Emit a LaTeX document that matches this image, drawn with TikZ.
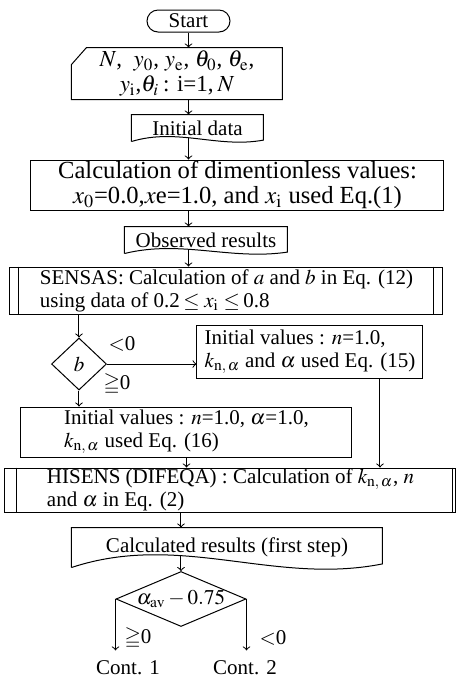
\documentclass[tikz,border=0pt]{standalone}
\usepackage{amssymb}
\usepackage{mathptmx}
\usepackage{fontspec}
\setmainfont{Liberation Serif}
\usetikzlibrary{shapes.geometric,calc}

% box with a wavy bottom (document)
\newcommand{\docshape}[2]{%
  \draw (#1.south west) -- (#1.north west) -- (#1.north east) -- ([yshift={0.2*#2}]#1.south east)
    .. controls ($(#1.south west)!0.65!(#1.south east)+(0,{-1*#2})$) and ($(#1.south west)!0.35!(#1.south east)+(0,{2*#2})$) .. (#1.south west);}

\begin{document}
\begin{tikzpicture}[x=0.5pt,y=-0.5pt,line width=0.5pt,font=\fontsize{10.5}{11.5}\selectfont]
%define
\tikzstyle{term} = [rectangle, rounded corners=5.5pt, minimum width=41.5pt, minimum height=11pt, inner sep=0pt, draw]
\tikzstyle{box} = [rectangle, inner sep=0pt, align=center, draw]
\tikzstyle{plain} = [rectangle, inner sep=0pt, align=center]
\tikzstyle{decide} = [diamond, inner sep=0pt, draw]
\tikzstyle{lbl} = [inner sep=0pt]
\tikzstyle{arrow} = [->, >=to]

\useasboundingbox (0,0) rectangle (457,677);

%input
\node[term](start) at (188.5,21){Start};
\node[plain, minimum width=105pt, minimum height=25.5pt, font=\fontsize{11.5}{12.5}\selectfont](input) at (177,73.5){$N$, \ $y_0$, $y_{\rm e}$, $\theta_0$, $\theta_{\rm e}$,\\ $y_{\rm i}$,$\theta_i$\,: i=1,\,$N$};
\draw ([yshift=-8.5pt]input.north west) -- ([xshift=7.5pt]input.north west) -- (input.north east) -- (input.south east) -- (input.south west) -- cycle;
\node[plain, minimum width=65.5pt, minimum height=13pt](init) at (197.5,128){Initial data};
\docshape{init}{3.5pt}
\node[box, minimum width=206.5pt, minimum height=25pt, font=\fontsize{12.3}{12.3}\selectfont](calc) at (237.5,185){Calculation of dimentionless values:\\ $x_0$=0.0,$x$e=1.0, and $x_{\rm i}$ used Eq.(1)};
\node[plain, minimum width=81pt, minimum height=13pt](obs) at (206,240){Observed results};
\docshape{obs}{3.5pt}

%SENSAS
\node[box, align=left, minimum width=216.5pt, minimum height=23.5pt](sensas) at (226.5,290.5){SENSAS: Calculation of $a$ and $b$ in Eq. (12)\\ using data of 0.2\,$\le x_{\rm i}\le$\,0.8};
\draw ([xshift=4.5pt]sensas.north west) -- ([xshift=4.5pt]sensas.south west);
\draw ([xshift=-5pt]sensas.north east) -- ([xshift=-5pt]sensas.south east);

%branch on b
\node[decide, minimum width=27.5pt, minimum height=26pt](b) at (79,364){$b$};
\node[lbl](b_lt) at (122,344){$<$0};
\node[lbl](b_ge) at (117,384){$\geqq$0};
\node[box, align=left, minimum width=113pt, minimum height=26.5pt](ini15) at (310,351.5){Initial values : $n$=1.0,\\ $k_{\rm n,\,\alpha}$ and $\alpha$ used Eq. (15)};
\node[box, align=left, minimum width=165.5pt, minimum height=25pt](ini16) at (186.5,432){Initial values : $n$=1.0, $\alpha$=1.0,\\ $k_{\rm n,\,\alpha}$ used Eq. (16)};

%HISENS
\node[box, align=left, minimum width=225.5pt, minimum height=22pt](hisens) at (230.5,490){HISENS (DIFEQA) : Calculation of $k_{\rm n,\,\alpha}$, $n$\\ and $\alpha$\ in Eq. (2)};
\draw ([xshift=6pt]hisens.north west) -- ([xshift=6pt]hisens.south west);
\draw ([xshift=-2pt]hisens.north east) -- ([xshift=-2pt]hisens.south east);
\node[plain, minimum width=155pt, minimum height=19.5pt](calcres) at (227,547.5){Calculated results (first step)};
\docshape{calcres}{9pt}

%branch on alpha
\node[decide, minimum width=65pt, minimum height=27.5pt](alpha) at (181,599){\makebox[0pt]{$\alpha_{\rm av}-0.75$}};
\node[lbl](a_ge) at (138,638){$\geqq$0};
\node[lbl](a_lt) at (273,638){$<$0};
\node[lbl](cont1) at (128,668){Cont. 1};
\node[lbl](cont2) at (245,668){Cont. 2};

%line
\draw[arrow](start.south) -- (start.south |- input.north);
\draw[arrow](start.south |- input.south) -- (start.south |- init.north);
\draw[arrow]([yshift=1.8pt]start.south |- init.south) -- (start.south |- calc.north);
\draw[arrow](start.south |- calc.south) -- (start.south |- obs.north);
\draw[arrow]([yshift=2pt]start.south |- obs.south) -- (start.south |- sensas.north);
\draw[arrow](b.north |- sensas.south) -- (b.north);
\draw[arrow](b.east) -- (b.east -| ini15.west);
\draw[arrow](b.south) -- (b.south |- ini16.north);
\draw[arrow]([xshift=35pt]ini15.south) -- ([xshift=35pt]ini15.south |- hisens.north);
\draw[arrow](ini16.south) -- (ini16.south |- hisens.north);
\draw[arrow](alpha.north |- hisens.south) -- (alpha.north |- calcres.north);
\draw[arrow]([yshift=5.7pt]alpha.north |- calcres.south) -- (alpha.north);
\draw[arrow, shorten >=5pt](alpha.west) -- (alpha.west |- cont1.north); %>=0 -> Cont. 1
\draw[arrow, shorten >=5pt](alpha.east) -- (alpha.east |- cont2.north); %<0 -> Cont. 2

\end{tikzpicture}
\end{document}
